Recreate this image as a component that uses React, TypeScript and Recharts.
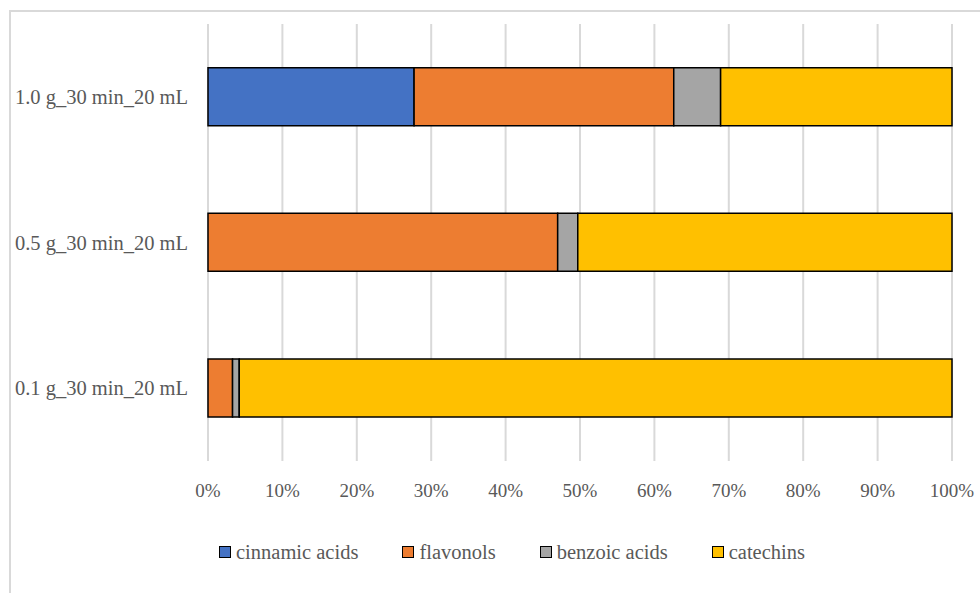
import { BarChart, Bar, XAxis, YAxis, CartesianGrid } from "recharts";

const categories = ["1.0 g_30 min_20 mL", "0.5 g_30 min_20 mL", "0.1 g_30 min_20 mL"];
const cinnamicAcids = [27.7, 0, 0];
const flavonols = [34.9, 47.0, 3.3];
const benzoicAcids = [6.3, 2.7, 0.9];
const catechins = [31.1, 50.3, 95.8];
const xTicks = [0, 10, 20, 30, 40, 50, 60, 70, 80, 90, 100];

const SERIES = [
  { key: "cinnamic", name: "cinnamic acids", color: "#4472C4", values: cinnamicAcids },
  { key: "flavonols", name: "flavonols", color: "#ED7D31", values: flavonols },
  { key: "benzoic", name: "benzoic acids", color: "#A5A5A5", values: benzoicAcids },
  { key: "catechins", name: "catechins", color: "#FFC000", values: catechins },
];

const data = categories.map((name, i) => {
  const row: Record<string, string | number> = { name };
  SERIES.forEach(s => { row[s.key] = s.values[i]; });
  return row;
});

const FONT = "'Liberation Serif', 'Times New Roman', serif";
const TEXT = "#595959";

function LegendRow() {
  return (
    <div style={{ position: "absolute", left: 219, top: 539, display: "flex", gap: 44, fontFamily: FONT, fontSize: 20.5, color: TEXT, lineHeight: "26px" }}>
      {SERIES.map(s => (
        <div key={s.key} style={{ display: "flex", alignItems: "center", gap: 5 }}>
          <span style={{ width: 10, height: 10, background: s.color, border: "1.5px solid #000", display: "inline-block" }} />
          <span>{s.name}</span>
        </div>
      ))}
    </div>
  );
}

export default function App() {
  return (
    <div style={{ position: "absolute", left: 0, top: 0, width: 980, height: 593, overflow: "hidden", background: "#fff" }}>
      <div style={{ position: "absolute", left: 9, top: 10, width: 1000, height: 620, border: "2px solid #d9d9d9" }} />
      <div style={{ position: "absolute", left: 0, top: 0 }}>
        <BarChart
          width={980}
          height={593}
          data={data}
          layout="vertical"
          margin={{ top: 24, right: 28, bottom: 0, left: 0 }}
          barCategoryGap="30%"
        >
          <CartesianGrid horizontal={false} stroke="#d9d9d9" strokeWidth={2} />
          <XAxis
            type="number"
            domain={[0, 100]}
            ticks={xTicks}
            tickFormatter={v => `${v}%`}
            axisLine={false}
            tickLine={false}
            tickSize={0}
            tickMargin={23}
            height={132}
            interval={0}
            tick={{ fill: TEXT, fontSize: 19, fontFamily: FONT }}
          />
          <YAxis
            type="category"
            dataKey="name"
            width={208}
            axisLine={false}
            tickLine={false}
            tickSize={0}
            tickMargin={20}
            tick={{ fill: TEXT, fontSize: 20.5, fontFamily: FONT }}
          />
          {SERIES.map(s => (
            <Bar key={s.key} dataKey={s.key} name={s.name} stackId="a" fill={s.color} stroke="#000" strokeWidth={1.5} isAnimationActive={false} />
          ))}
        </BarChart>
      </div>
      <LegendRow />
    </div>
  );
}
